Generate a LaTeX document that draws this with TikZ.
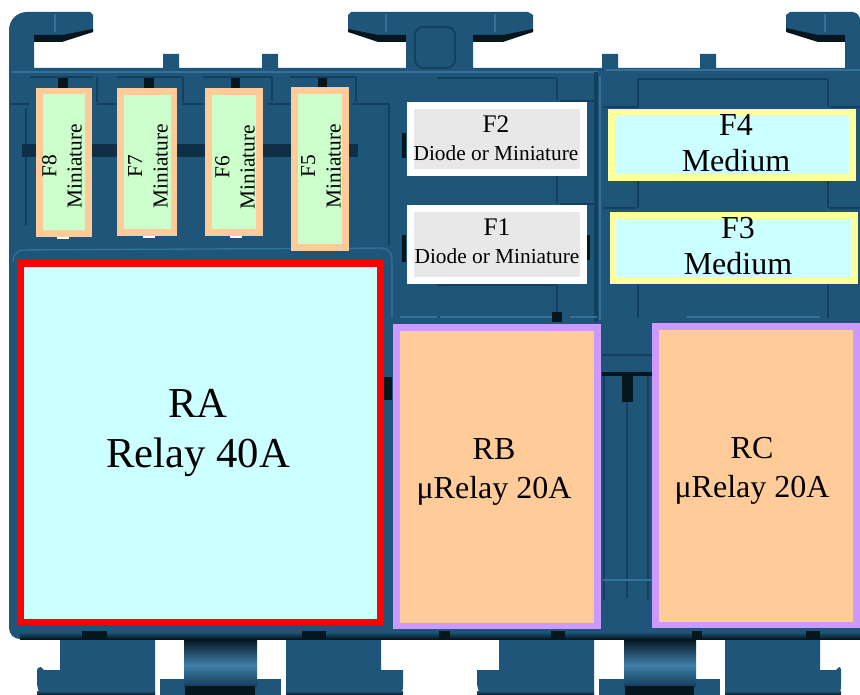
\documentclass[tikz,border=0pt]{standalone}
\usepackage{fontspec}
\setmainfont{Liberation Serif}
\usepackage{xcolor}
\usepackage{tikz}
\definecolor{boardblue}{HTML}{1F5578}
\definecolor{boarddark}{HTML}{143F5E}
\definecolor{boardlight}{HTML}{3F7FA8}
\definecolor{boardblack}{HTML}{06161F}
\definecolor{fusegreen}{HTML}{CCFFCC}
\definecolor{fuseorange}{HTML}{FFCC99}
\definecolor{fusegray}{HTML}{E8E8E8}
\definecolor{fusecyan}{HTML}{CCFFFF}
\definecolor{fuseyellow}{HTML}{FFFF99}
\definecolor{relaypurple}{HTML}{CC99FF}

\begin{document}
\begin{tikzpicture}[x=0.75pt, y=-0.75pt,
		box/.style={draw, line width=5pt, inner sep=0pt, outer sep=0pt},
		mini/.style={box, draw=fuseorange, fill=fusegreen},
		diode/.style={box, draw=white, fill=fusegray},
		medium/.style={box, draw=fuseyellow, fill=fusecyan},
		microrelay/.style={box, draw=relaypurple, fill=fuseorange},
		minitext/.style={rotate=90, align=center, font=\fontsize{16}{19}\selectfont},
		diodetext/.style={align=center, font=\fontsize{16}{21}\selectfont},
		mediumtext/.style={align=center, font=\fontsize{24}{27}\selectfont},
		relaytext/.style={align=center, font=\fontsize{24}{29}\selectfont},
		edge/.style={boarddark, line width=1.6pt},
		shine/.style={boardlight!70!boardblue, line width=1pt},
		blackbit/.style={fill=boardblack}]
		\useasboundingbox (0,0) rectangle (860,695);

		% legs below the board
		\fill[boardblue] (60,635) -- (155,635) -- (155,695) -- (42,695) to[out=180,in=90] (37,685) -- (37,670) to[out=90,in=180] (41,667) -- (44,670) -- (60,670) -- cycle;
		\fill[boardblue] (286,635) -- (381,635) -- (381,670) -- (403,670) -- (403,685) to[out=-90,in=0] (398,695) -- (286,695) -- cycle;
		\fill[boardblue] (499,635) -- (594,635) -- (594,695) -- (482,695) to[out=180,in=90] (477,685) -- (477,670) -- (499,670) -- cycle;
		\fill[boardblue] (725,635) -- (820,635) -- (820,670) -- (836,670) -- (839,667) to[out=0,in=90] (841,670) -- (841,685) to[out=-90,in=0] (836,695) -- (725,695) -- cycle;
		\fill[boardblue] (160,679) rectangle (281,695);
		\fill[boardblue] (599,679) rectangle (720,695);
		\shade[top color=boardblack, bottom color=boardlight] (184,639) rectangle (257,665);
		\shade[top color=boardlight, bottom color=boarddark] (184,665) rectangle (257,686);
		\shade[top color=boardblack, bottom color=boardlight] (624,639) rectangle (696,665);
		\shade[top color=boardlight, bottom color=boarddark] (624,665) rectangle (696,686);
		\fill[blackbit] (185,686) rectangle (255,695);
		\fill[blackbit] (625,686) rectangle (694,695);
		\shade[top color=boardblue, bottom color=boardblack] (37,691) rectangle (155,695);
		\shade[top color=boardblue, bottom color=boardblack] (286,691) rectangle (403,695);
		\shade[top color=boardblue, bottom color=boardblack] (477,691) rectangle (594,695);
		\shade[top color=boardblue, bottom color=boardblack] (725,691) rectangle (841,695);

		% board outline
		\fill[boardblue] (9,30) to[out=90,in=180] (27,12) -- (90,12) -- (93,15) -- (93,32) -- (62,39) -- (34,39) -- (34,68)
			-- (163,68) -- (163,54) -- (179,54) -- (179,68) -- (262,68) -- (262,54) -- (278,54) -- (278,68) -- (406,68)
			-- (406,39) -- (378,39) -- (348,32) -- (348,15) -- (351,12) -- (528,12) -- (533,15) -- (533,32) -- (503,39) -- (473,39) -- (473,68)
			-- (602,68) -- (602,54) -- (618,54) -- (618,68) -- (700,68) -- (700,54) -- (716,54) -- (716,68) -- (845,68)
			-- (845,39) -- (818,39) -- (786,30) -- (786,15) -- (790,12) -- (852,12) to[out=0,in=90] (860,20)
			-- (860,639) -- (20,639) to[out=180,in=-90] (9,628) -- cycle;

		% dark and light details on the board
		\fill[blackbit] (34,35) -- (62,35) -- (93,29) -- (93,32) -- (62,42) -- (34,42) -- cycle;
		\fill[blackbit] (348,29) -- (378,35) -- (406,35) -- (406,42) -- (378,42) -- (348,32) -- cycle;
		\fill[blackbit] (473,35) -- (503,35) -- (533,29) -- (533,32) -- (503,42) -- (473,42) -- cycle;
		\fill[blackbit] (786,28) -- (818,35) -- (845,35) -- (845,42) -- (818,42) -- (786,32) -- cycle;
		\draw[shine] (55,14) -- (55,32) (386,14) -- (386,32) (495,14) -- (495,32) (825,14) -- (825,32);
		\draw[boarddark, line width=1.4pt, rounded corners=6pt] (415,27) rectangle (455,68);
		\draw[shine] (12,72) -- (598,72);
		\draw[shine] (606,70) -- (860,70);

		\draw[edge] (30,77) -- (93,77) (117,77) -- (183,77) (203,77) -- (272,77) (290,77) -- (356,77) (437,78) -- (557,78) (637,79) -- (828,79);
		\draw[edge] (97,77) -- (97,102) (183,77) -- (183,102) (272,77) -- (272,102) (356,77) -- (356,102);
		\draw[edge] (10,104) -- (30,104) (97,104) -- (117,104) (182,104) -- (203,104) (268,104) -- (290,104) (353,104) -- (390,104);
		\draw[edge] (389,104) -- (389,245) (26,108) -- (26,225);
		\draw[edge] (557,78) -- (557,100) (560,101) -- (596,101) (557,176) -- (557,203) (560,204) -- (596,204) (437,285) -- (557,285) (557,285) -- (557,318);
		\draw[edge] (638,79) -- (638,107) (828,79) -- (828,107) (603,107) -- (638,107) (830,107) -- (860,107);
		\draw[edge] (638,181) -- (638,208) (828,181) -- (828,208) (603,208) -- (636,208) (830,208) -- (860,208);
		\draw[edge] (638,284) -- (638,318) (828,284) -- (828,318);
		\draw[boarddark, line width=2.4pt] (596,72) -- (596,322);
		\draw[shine] (600,76) -- (600,320);

		\fill[blackbit] (58,78) rectangle (68,88);
		\fill[blackbit] (144,78) rectangle (154,88);
		\fill[blackbit] (231,78) rectangle (240,88);
		\fill[blackbit] (318,78) rectangle (327,88);
		\fill[boarddark!60!boardblack] (22,144) rectangle (358,157);
		\fill[blackbit] (402,133) rectangle (406,158);
		\fill[blackbit] (402,235) rectangle (406,262);
		\fill[blackbit] (587,235) rectangle (590,260);
		\fill[white] (57,237) rectangle (69,239);
		\fill[white] (143,236) rectangle (155,238);
		\fill[white] (230,236) rectangle (242,238);

		\draw[shine, rounded corners=8pt] (13,262) -- (13,250) -- (392,248) -- (392,318);
		\draw[shine] (400,317) -- (437,317) (440,317) -- (555,317) (570,317) -- (597,317) (687,317) -- (820,317);
		\fill[blackbit] (384,377) rectangle (392,400);
		\fill[blackbit] (552,312) rectangle (562,322);
		\draw[edge] (602,355) -- (652,355);
		\draw[boardblack, line width=3pt] (602,374) -- (652,374);
		\fill[blackbit] (622,376) rectangle (633,402);
		\draw[edge] (627,402) -- (627,598);
		\draw[edge] (604,376) -- (604,600);
		\draw[edge] (648,376) -- (648,600);
		\draw[shine] (603,580) -- (652,580);

		% shadow along the bottom edge
		\shade[top color=boardblue, bottom color=boardblack] (20,632) rectangle (860,639);
		\fill[blackbit] (82,631) rectangle (107,639);
		\fill[blackbit] (302,631) rectangle (326,639);
		\fill[blackbit] (439,631) rectangle (450,639);
		\fill[blackbit] (551,631) rectangle (565,639);
		\fill[blackbit] (692,631) rectangle (702,639);
		\fill[blackbit] (806,631) rectangle (820,639);

		% miniature fuses
		\node[mini, minimum width=37pt, minimum height=107pt] (F8) at (64,162.5) {};
		\node[minitext] (F8 text) at (62,166) {F8\\Miniature};
		\node[mini, minimum width=40pt, minimum height=106pt] (F7) at (147.25,162) {};
		\node[minitext] (F7 text) at (148,166) {F7\\Miniature};
		\node[mini, minimum width=38.5pt, minimum height=106pt] (F6) at (234,162) {};
		\node[minitext] (F6 text) at (235,167) {F6\\Miniature};
		\node[mini, minimum width=38.5pt, minimum height=117.5pt] (F5) at (320,169) {};
		\node[minitext] (F5 text) at (321,166) {F5\\Miniature};

		% diode or miniature fuses
		\node[diode, minimum width=130pt, minimum height=50.5pt] (F2) at (497,139) {};
		\node[diodetext] (F2 text) at (496,138) {\fontsize{19}{21}\selectfont F2\\Diode or Miniature};
		\node[diode, minimum width=130pt, minimum height=54pt] (F1) at (497,244.5) {};
		\node[diodetext] (F1 text) at (497,241) {\fontsize{19}{21}\selectfont F1\\Diode or Miniature};

		% medium fuses
		\node[medium, minimum width=181pt, minimum height=49pt] (F4) at (732,145) {};
		\node[mediumtext] (F4 text) at (736,143) {F4\\Medium};
		\node[medium, minimum width=181pt, minimum height=49pt] (F3) at (733.5,248) {};
		\node[mediumtext] (F3 text) at (738,246) {F3\\Medium};

		% relays
		\node[box, draw=red, fill=fusecyan, minimum width=270pt, minimum height=269pt] (RA) at (200.5,442.75) {};
		\node[align=center, font=\fontsize{32}{37}\selectfont] (RA text) at (198,433) {RA\\Relay 40A};
		\node[microrelay, minimum width=151pt, minimum height=224pt] (RB) at (497,476.5) {};
		\node[relaytext] (RB text) at (494,472) {RB\\μRelay 20A};
		\node[microrelay, minimum width=151pt, minimum height=224pt] (RC) at (756,475.5) {};
		\node[relaytext] (RC text) at (752,471) {RC\\μRelay 20A};
	\end{tikzpicture}
\end{document}
